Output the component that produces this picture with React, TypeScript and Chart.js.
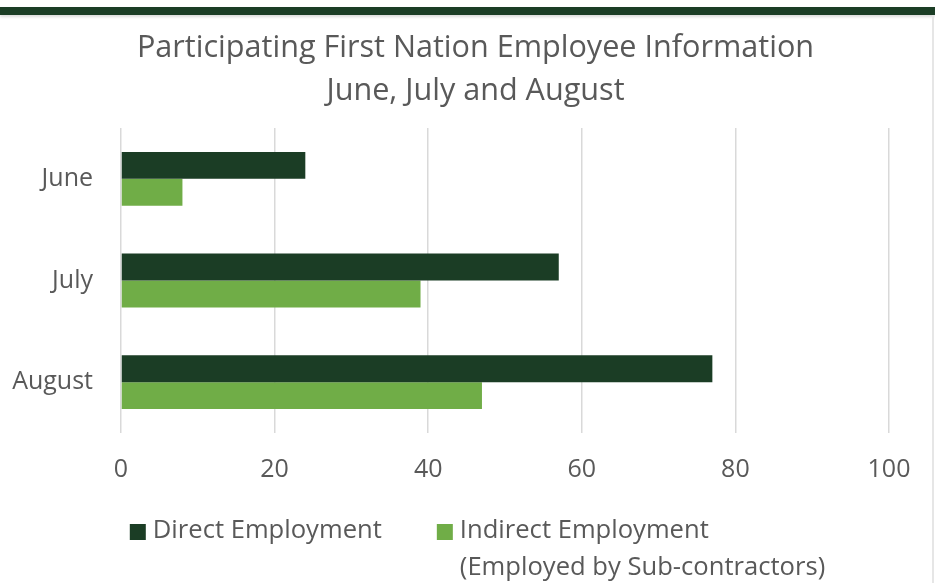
import React, { useEffect, useRef } from "react";
import { Chart, registerables } from "chart.js";

Chart.register(...registerables);

const categories = ["June", "July", "August"];
const directEmployment = [24, 57, 77];
const indirectEmployment = [8, 39, 47];
const titleLines = ["Participating First Nation Employee Information", "June, July and August"];
const seriesNames = ["Direct Employment", "Indirect Employment"];
const legendLines: string[][] = [["Direct Employment"], ["Indirect Employment", "(Employed by Sub-contractors)"]];
const xTicks = [0, 20, 40, 60, 80, 100];

const FONT = "'Open Sans'";
const TEXT = "#595959";
const DARK = "#1b3d25";
const LIGHT = "#70ad47";

const titleLegendPlugin = {
  id: "titleLegend",
  afterDraw(chart: any) {
    const ctx = chart.ctx;
    ctx.save();
    // title, centred on the full canvas width
    ctx.font = `30.6px ${FONT}`;
    ctx.fillStyle = TEXT;
    ctx.textAlign = "center";
    ctx.textBaseline = "middle";
    titleLines.forEach((line, i) => {
      ctx.fillText(line, chart.width / 2, 48 + i * 43);
    });

    // legend
    const size = 25.6;
    const lineH = 37;
    const box = 16;
    const gap = 7;
    const spacing = 55;
    ctx.font = `${size}px ${FONT}`;
    ctx.textAlign = "left";
    const widths = legendLines.map((lines) => box + gap + Math.max(...lines.map((l) => ctx.measureText(l).width)));
    const total = widths.reduce((a, b) => a + b, 0) + spacing * (widths.length - 1);
    let x = (chart.width - total) / 2 + 2;
    const y0 = chart.height - 52;
    chart.data.datasets.forEach((ds: any, i: number) => {
      ctx.fillStyle = ds.backgroundColor;
      ctx.fillRect(x, y0 - box / 2 + 1, box, box);
      ctx.fillStyle = TEXT;
      legendLines[i].forEach((line, j) => {
        ctx.fillText(line, x + box + gap, y0 + j * lineH);
      });
      x += widths[i] + spacing;
    });
    ctx.restore();
  },
};

export default function App() {
  const ref = useRef<HTMLCanvasElement>(null);
  useEffect(() => {
    document.body.style.margin = "0";
    const chart = new Chart(ref.current!, {
      type: "bar",
      data: {
        labels: categories,
        datasets: [
          { label: seriesNames[0], data: directEmployment, backgroundColor: DARK, borderWidth: 0 },
          { label: seriesNames[1], data: indirectEmployment, backgroundColor: LIGHT, borderWidth: 0 },
        ],
      },
      options: {
        indexAxis: "y",
        animation: false,
        responsive: false,
        maintainAspectRatio: false,
        layout: { padding: { left: 0, right: 62, top: 128, bottom: 76 } },
        datasets: { bar: { categoryPercentage: 0.53, barPercentage: 1.0 } },
        scales: {
          x: {
            min: 0,
            max: 100,
            afterBuildTicks: (axis: any) => {
              axis.ticks = xTicks.map((v) => ({ value: v }));
            },
            grid: { color: "#d9d9d9", lineWidth: 1.5, drawTicks: false },
            border: { display: false },
            ticks: { color: TEXT, font: { family: FONT, size: 25 }, padding: 22 },
          },
          y: {
            grid: { display: false, drawTicks: false },
            border: { display: false },
            afterFit: (axis: any) => {
              axis.width = 121;
            },
            ticks: { color: TEXT, font: { family: FONT, size: 25 }, padding: 28 },
          },
        },
        plugins: {
          title: { display: false },
          legend: { display: false },
          tooltip: { enabled: false },
        },
      },
      plugins: [titleLegendPlugin],
    });
    return () => chart.destroy();
  }, []);
  return (
    <div style={{ position: "relative", width: 935, height: 583, background: "#fff", overflow: "hidden" }}>
      <canvas ref={ref} width={951} height={583} style={{ position: "absolute", left: 0, top: 0 }} />
      <div style={{ position: "absolute", left: 0, top: 7, width: 935, height: 8, background: DARK, boxShadow: "0 2px 3px rgba(0,0,0,0.15)" }} />
      <div style={{ position: "absolute", left: 932, top: 15, width: 2, height: 568, background: "#e6e6e6" }} />
    </div>
  );
}
